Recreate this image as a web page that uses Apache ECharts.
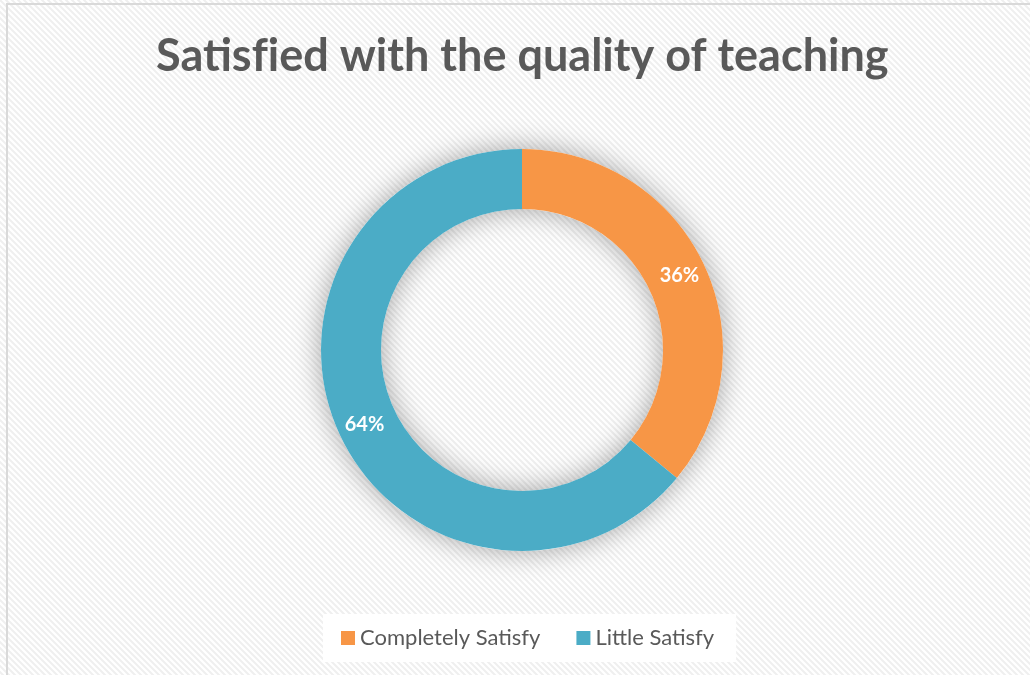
<!DOCTYPE html>
<html>
<head>
<meta charset="UTF-8">
<title>Satisfied with the quality of teaching</title>
<script src="https://cdn.jsdelivr.net/npm/echarts@6/dist/echarts.min.js"></script>
<style>
  html, body { margin: 0; padding: 0; background: #fff; }
  #main { width: 1030px; height: 675px; }
</style>
</head>
<body>
<div id="main"></div>
<script type="text/javascript">
    // zero-width non-joiner keeps "fi" from turning into a ligature
    var titleText = 'Satisf\u200Cied with the quality of teaching';
    var categories = ['Completely Satisfy', 'Little Satisfy'];
    var values = [36, 64];
    var colors = ['#F79646', '#4BACC6'];

    // diagonal hatch background
    var tile = document.createElement('canvas');
    tile.width = 6; tile.height = 6;
    var ctx = tile.getContext('2d');
    ctx.fillStyle = '#ffffff';
    ctx.fillRect(0, 0, 6, 6);
    ctx.strokeStyle = '#efefef';
    ctx.lineWidth = 2;
    ctx.beginPath();
    ctx.moveTo(-3, -3); ctx.lineTo(9, 9);
    ctx.moveTo(-3, 3); ctx.lineTo(3, 9);
    ctx.moveTo(3, -3); ctx.lineTo(9, 3);
    ctx.stroke();

    var pieData = [];
    for (var i = 0; i < categories.length; i++) {
        pieData.push({ name: categories[i], value: values[i], itemStyle: { color: colors[i] } });
    }

    var myChart = echarts.init(document.getElementById('main'));
    var option = {
        backgroundColor: { image: tile, repeat: 'repeat' },
        animation: false,
        graphic: [{
            type: 'rect',
            shape: { x: 7, y: 4, width: 1040, height: 700 },
            style: { fill: 'none', stroke: '#d9d9d9', lineWidth: 2 },
            silent: true
        }],
        title: {
            text: titleText,
            left: 151,
            top: 29,
            textStyle: {
                fontFamily: 'Lato',
                fontWeight: 'bold',
                fontSize: 45,
                color: '#595959'
            }
        },
        legend: {
            data: categories,
            bottom: 13,
            left: 323,
            backgroundColor: '#ffffff',
            padding: [13, 22, 13, 18],
            itemWidth: 14,
            itemHeight: 14,
            itemGap: 36,
            icon: 'rect',
            textStyle: {
                fontFamily: 'Lato',
                fontSize: 22,
                color: '#595959'
            }
        },
        series: [{
            // soft shadow under the whole ring
            type: 'pie',
            center: [522, 350],
            radius: [141, 201],
            silent: true,
            z: 1,
            data: [{ value: 1, name: 'shadow' }],
            itemStyle: {
                color: '#ffffff',
                shadowBlur: 28,
                shadowColor: 'rgba(0,0,0,0.35)'
            },
            label: { show: false },
            labelLine: { show: false }
        }, {
            type: 'pie',
            center: [522, 350],
            radius: [141, 201],
            startAngle: 90,
            clockwise: true,
            silent: true,
            z: 2,
            data: pieData,
            label: {
                show: true,
                position: 'inside',
                formatter: '{c}%',
                fontFamily: 'Lato',
                fontWeight: 'bold',
                fontSize: 20,
                color: '#ffffff'
            },
            labelLine: { show: false }
        }]
    };
    myChart.setOption(option);
</script>
</body>
</html>
